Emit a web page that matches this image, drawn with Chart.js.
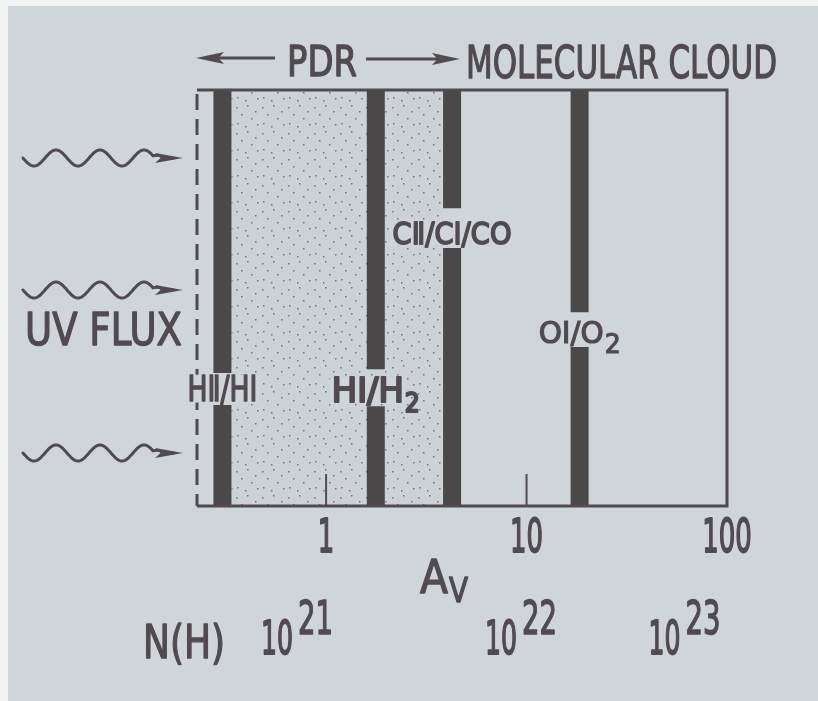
<!DOCTYPE html>
<html>
<head>
<meta charset="utf-8">
<script src="https://cdn.jsdelivr.net/npm/chart.js@4.4.1/dist/chart.umd.min.js"></script>
<style>
  html, body { margin: 0; padding: 0; background: #ced4d8; }
  canvas { display: block; }
</style>
</head>
<body>
<canvas id="c" width="818" height="701"></canvas>
<script>
// ── Data ────────────────────────────────────────────────────────────────────
// A_V of each transition front (thick vertical bars)
const barAv     = [0.304, 1.77, 4.25, 18.4];
// depth axis (0 = bottom, 100 = top of box): where the label gap in each bar starts / ends
const gapLow    = [24.3, 24.0, 62.0, 38.2];
const gapHigh   = [32.0, 32.9, 71.6, 46.6];
const frontText = ['HⅡ/HI', 'HI/H', 'CⅡ/CI/CO', 'OI/O'];
const frontSub  = ['', '2', '', '2'];

// A_V axis
const avMin = 0.227, avMax = 100;
const avTicks      = [1, 10, 100];
const avTickLabels = ['1', '10', '100'];

// N(H) row: exponent labels and the A_V they sit under
const nhExp = ['21', '22', '23'];
const nhAv  = [0.716, 9.38, 61.4];

// ── Colours ─────────────────────────────────────────────────────────────────
const PAPER = '#cfd5d9';
const INK   = '#514b50';
const BAR   = '#4a4849';
const FONT  = '"DejaVu Sans", sans-serif';

// text squeezed to a given width (the hand lettering is very condensed),
// with a thin outline to get the pen-stroke weight
function drawText(ctx, s, x, y, size, w, align, stroke) {
  ctx.save();
  ctx.font = size + 'px ' + FONT;
  ctx.textBaseline = 'alphabetic';
  ctx.textAlign = 'left';
  const nat = ctx.measureText(s).width;
  const left = align === 'center' ? x - w / 2 : x;
  ctx.translate(left, y);
  ctx.scale(w / nat, 1);
  ctx.fillText(s, 0, 0);
  ctx.lineWidth = stroke == null ? 1.4 : stroke;
  ctx.lineJoin = 'round';
  ctx.strokeStyle = ctx.fillStyle;
  ctx.strokeText(s, 0, 0);
  ctx.restore();
}

function arrowHead(ctx, tipX, y, len, half, dir) {
  ctx.beginPath();
  ctx.moveTo(tipX, y);
  ctx.lineTo(tipX - dir * len, y - half);
  ctx.lineTo(tipX - dir * len * 0.8, y);
  ctx.lineTo(tipX - dir * len, y + half);
  ctx.closePath();
  ctx.fill();
}

function wavyArrow(ctx, x0, tip, cy) {
  const P = 44, A = 8, xe = tip - 30;
  ctx.beginPath();
  for (let x = x0; x <= xe; x += 1) {
    const y = cy + A * Math.sin(2 * Math.PI * (x - x0) / P);
    if (x === x0) ctx.moveTo(x, y); else ctx.lineTo(x, y);
  }
  ctx.quadraticCurveTo(xe + 8, cy - 4, tip - 20, cy);
  ctx.lineTo(tip - 10, cy);
  ctx.stroke();
  arrowHead(ctx, tip, cy, 28, 5, 1);
}

// sparse stipple tile
function stipplePattern(ctx) {
  const t = document.createElement('canvas');
  t.width = 26; t.height = 26;
  const g = t.getContext('2d');
  g.fillStyle = 'rgba(60,56,60,0.6)';
  const dots = [[2,3],[13,1],[21,7],[7,10],[17,14],[3,19],[11,22],[23,20]];
  dots.forEach(([x, y]) => g.fillRect(x, y, 1.5, 1.5));
  return ctx.createPattern(t, 'repeat');
}

const datasets = [];
barAv.forEach((av, i) => {
  datasets.push({ data: [{ x: av, y: 0 }, { x: av, y: gapLow[i] }] });
  datasets.push({ data: [{ x: av, y: gapHigh[i] }, { x: av, y: 100 }] });
});
datasets.forEach(d => Object.assign(d, {
  showLine: true, borderColor: BAR, borderWidth: 18, borderCapStyle: 'butt',
  pointRadius: 0, fill: false
}));

const pdrDecor = {
  id: 'pdrDecor',
  beforeDraw(chart) {
    const ctx = chart.ctx;
    ctx.save();
    ctx.fillStyle = PAPER;
    ctx.fillRect(0, 0, chart.width, chart.height);
    ctx.fillStyle = '#f2f4f4';
    ctx.fillRect(0, 0, chart.width, 6);
    ctx.fillRect(0, 0, 8, chart.height);
    ctx.restore();
  },
  beforeDatasetsDraw(chart) {
    const { ctx, chartArea: a, scales: { x } } = chart;
    const x1 = x.getPixelForValue(barAv[0]) + 9;
    const x2 = x.getPixelForValue(barAv[2]) - 9;
    ctx.save();
    ctx.fillStyle = 'rgba(90,90,95,0.025)';
    ctx.fillRect(x1, a.top, x2 - x1, a.bottom - a.top);
    ctx.fillStyle = stipplePattern(ctx);
    ctx.fillRect(x1, a.top, x2 - x1, a.bottom - a.top);
    ctx.restore();
  },
  afterDatasetsDraw(chart) {
    const { ctx, chartArea: a, scales: { x, y } } = chart;
    ctx.save();
    ctx.strokeStyle = INK;
    ctx.fillStyle = INK;
    ctx.lineCap = 'butt';

    // box: solid top / right / bottom, dashed left edge
    ctx.lineWidth = 3;
    ctx.beginPath();
    ctx.moveTo(a.left, a.top);
    ctx.lineTo(a.right, a.top);
    ctx.lineTo(a.right, a.bottom);
    ctx.lineTo(a.left, a.bottom);
    ctx.stroke();
    ctx.setLineDash([16, 9]);
    ctx.lineDashOffset = -4;
    ctx.beginPath();
    ctx.moveTo(a.left, a.top);
    ctx.lineTo(a.left, a.bottom);
    ctx.stroke();
    ctx.setLineDash([]);

    // inward ticks
    ctx.lineWidth = 2;
    avTicks.forEach(v => {
      const px = x.getPixelForValue(v);
      ctx.beginPath();
      ctx.moveTo(px, a.bottom);
      ctx.lineTo(px, a.bottom - 32);
      ctx.stroke();
    });

    // front labels in the bar gaps
    const st = [
      { size: 35, w: 70, sw: 0, k: 1.6 },
      { size: 33, w: 72, sw: 15, k: 2.2 },
      { size: 31, w: 119, sw: 0, k: 1.8 },
      { size: 30, w: 65, sw: 16, k: 1.2 }
    ];
    barAv.forEach((av, i) => {
      const cx = x.getPixelForValue(av);
      const base = y.getPixelForValue(gapLow[i]) - 4;
      const s = st[i];
      const total = s.w + (s.sw ? s.sw + 1 : 0);
      const left = cx - total / 2;
      ctx.fillStyle = PAPER;
      ctx.fillRect(left - 2, base - s.size * 0.75, s.w + 4, s.size * 0.8);
      ctx.fillStyle = INK;
      drawText(ctx, frontText[i], left, base, s.size, s.w, 'left', s.k);
      if (frontSub[i]) drawText(ctx, frontSub[i], left + s.w + 1, base + 10, 26, s.sw, 'left', s.k);
    });

    // A_V tick labels
    avTicks.forEach((v, i) => {
      const px = x.getPixelForValue(v);
      const s = avTickLabels[i];
      drawText(ctx, s, px, 552, 46, s.length * 16.5, 'center', 1.8);
    });
    // axis title A_V
    const mid = (a.left + a.right) / 2;
    drawText(ctx, 'A', mid - 42, 593, 46, 28);
    drawText(ctx, 'V', mid - 13, 602, 34, 19);

    // N(H) row
    drawText(ctx, 'N(H)', 143, 658, 46, 82);
    nhAv.forEach((v, i) => {
      const cx = x.getPixelForValue(v);
      drawText(ctx, '10', cx - 36, 654, 47, 32, 'left', 1.8);
      drawText(ctx, nhExp[i], cx + 1, 634, 47, 35, 'left', 1.6);
    });

    // header
    drawText(ctx, 'PDR', 287, 76, 43, 70);
    drawText(ctx, 'MOLECULAR CLOUD', 466, 78, 45, 311);
    ctx.lineWidth = 3;
    ctx.beginPath();
    ctx.moveTo(210, 58); ctx.lineTo(275, 58);
    ctx.moveTo(366, 59); ctx.lineTo(440, 59);
    ctx.stroke();
    arrowHead(ctx, 196, 58, 28, 6, -1);
    arrowHead(ctx, 460, 59, 28, 6, 1);

    // UV flux
    drawText(ctx, 'UV FLUX', 25, 345, 45, 157);
    ctx.lineWidth = 3;
    ctx.lineCap = 'round';
    [158, 290, 453].forEach(cy => wavyArrow(ctx, 23, 183, cy));
    ctx.restore();
  }
};

new Chart(document.getElementById('c'), {
  type: 'scatter',
  data: { datasets },
  options: {
    responsive: false,
    animation: false,
    layout: { padding: { left: 197, right: 91, top: 90, bottom: 195 } },
    plugins: { legend: { display: false }, tooltip: { enabled: false } },
    scales: {
      x: { type: 'logarithmic', min: avMin, max: avMax, display: false },
      y: { type: 'linear', min: 0, max: 100, display: false }
    }
  },
  plugins: [pdrDecor]
});
</script>
</body>
</html>
